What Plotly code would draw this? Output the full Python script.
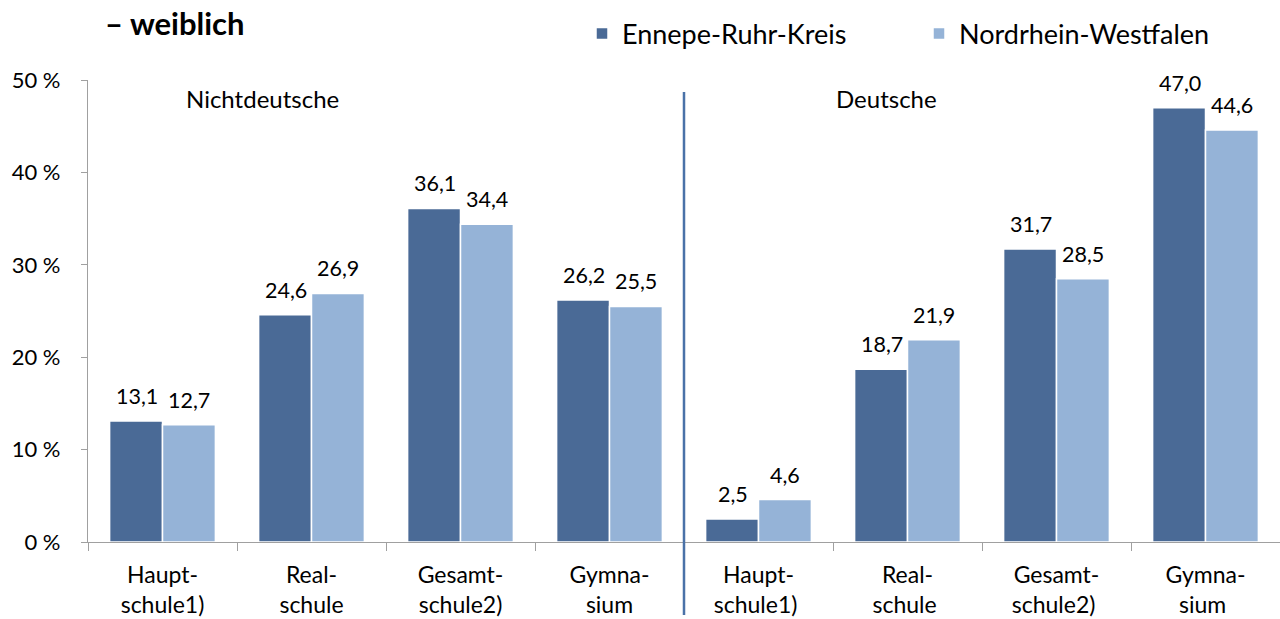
import plotly.graph_objects as go

categories = ["Haupt-<br>schule1)", "Real-<br>schule", "Gesamt-<br>schule2)", "Gymna-<br>sium",
              "Haupt-<br>schule1) ", "Real-<br>schule ", "Gesamt-<br>schule2) ", "Gymna-<br>sium "]
series_names = ["Ennepe-Ruhr-Kreis", "Nordrhein-Westfalen"]
ennepe = [13.1, 24.6, 36.1, 26.2, 2.5, 18.7, 31.7, 47.0]
nrw = [12.7, 26.9, 34.4, 25.5, 4.6, 21.9, 28.5, 44.6]
group_labels = ["Nichtdeutsche", "Deutsche"]
title_text = "– weiblich"
y_ticks = [0, 10, 20, 30, 40, 50]
y_ticktext = [f"{v} %" for v in y_ticks]

colors = ["#4A6A96", "#95B3D7"]
FONT = "Lato"

W, H = 1280, 619
PL, PR, PT, PB = 88, 1280, 80, 542  # plot area in page pixels
PW, PH = PR - PL, PB - PT

def px_x(x):
    return (x - PL) / PW

def px_y(y):
    return (PB - y) / PH

fig = go.Figure()
for name, vals, col, lg in zip(series_names, [ennepe, nrw], colors, ["legend", "legend2"]):
    fig.add_trace(go.Bar(
        x=categories, y=vals, name=name, legend=lg, showlegend=True,
        marker=dict(color=col, line=dict(color="white", width=1.5)),
    ))

# data labels
for vals, shift in [(ennepe, -26), (nrw, 26)]:
    for c, v in zip(categories, vals):
        fig.add_annotation(x=c, y=v, text=f"{v:.1f}".replace(".", ","),
                           xshift=shift, yshift=25, showarrow=False,
                           font=dict(family=FONT, size=21.5, color="#000"))

fig.add_annotation(x=0.674, y=48.05, xref="x", yref="y", text=group_labels[0],
                   showarrow=False, font=dict(family=FONT, size=24, color="#000"))
fig.add_annotation(x=4.86, y=48.05, xref="x", yref="y", text=group_labels[1],
                   showarrow=False, font=dict(family=FONT, size=24, color="#000"))

# title
fig.add_annotation(x=px_x(103), y=px_y(23), xref="paper", yref="paper",
                   text="<b>" + title_text + "</b>", showarrow=False, xanchor="left",
                   yanchor="middle", font=dict(family=FONT, size=31, color="#000"))

fig.add_shape(type="line", xref="x", yref="paper", x0=3.5, x1=3.5, y0=px_y(615), y1=px_y(92),
              line=dict(color="#4A72A8", width=2.5))

legend_common = dict(orientation="h", xanchor="left", y=px_y(34), yanchor="middle",
                     font=dict(family=FONT, size=27), bgcolor="rgba(0,0,0,0)", visible=True)

fig.update_layout(
    width=W, height=H,
    margin=dict(l=PL, r=W - PR, t=PT, b=H - PB),
    paper_bgcolor="white", plot_bgcolor="white",
    showlegend=True,
    barmode="group", bargap=0.29, bargroupgap=0.0,
    font=dict(family=FONT, size=20, color="#000"),
    legend=dict(x=px_x(582), **legend_common),
    legend2=dict(x=px_x(919), **legend_common),
    xaxis=dict(range=[-0.5, 7.5], showline=True, linecolor="#A0A0A0", linewidth=1.2,
               ticks="outside", tickson="boundaries", ticklen=8, tickcolor="#A0A0A0",
               tickfont=dict(family=FONT, size=23), showgrid=False, ticklabelstandoff=12),
    yaxis=dict(range=[0, 50], tickmode="array", tickvals=y_ticks, ticktext=y_ticktext,
               showline=True, linecolor="#A0A0A0", linewidth=1.2, ticks="outside", ticklen=6,
               tickcolor="#A0A0A0", showgrid=False, zeroline=False, ticklabelstandoff=16,
               tickfont=dict(family=FONT, size=22)),
)

fig.write_html("out.html", config={"displayModeBar": False},
               post_script="document.body.style.margin='0px';")
